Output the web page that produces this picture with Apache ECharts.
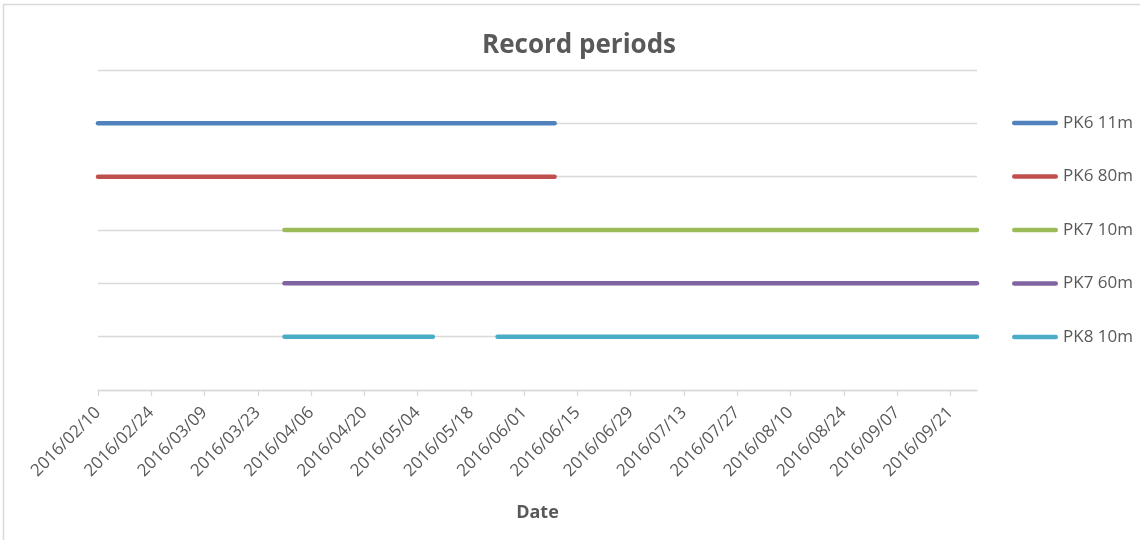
<!DOCTYPE html>
<html>
<head>
<meta charset="utf-8">
<title>Record periods</title>
<script src="https://cdn.jsdelivr.net/npm/echarts@6/dist/echarts.min.js"></script>
<style>
  html, body { margin: 0; padding: 0; background: #fff; }
  #chart { width: 1140px; height: 540px; }
</style>
</head>
<body>
<div id="chart"></div>
<script>
// 数据
var seriesNames = ['PK6 11m', 'PK6 80m', 'PK7 10m', 'PK7 60m', 'PK8 10m'];
var seriesLevels = [5, 4, 3, 2, 1];
var seriesPeriods = [
    [['2016/02/10', '2016/06/09']],
    [['2016/02/10', '2016/06/09']],
    [['2016/03/30', '2016/09/28']],
    [['2016/03/30', '2016/09/28']],
    [['2016/03/30', '2016/05/08'], ['2016/05/25', '2016/09/28']]
];
var tickLabels = ['2016/02/10', '2016/02/24', '2016/03/09', '2016/03/23', '2016/04/06',
    '2016/04/20', '2016/05/04', '2016/05/18', '2016/06/01', '2016/06/15', '2016/06/29',
    '2016/07/13', '2016/07/27', '2016/08/10', '2016/08/24', '2016/09/07', '2016/09/21'];
var axisStart = '2016/02/10';
var axisEnd = '2016/09/28';

var colors = ['#4F81BD', '#C0504D', '#9BBB59', '#8064A2', '#4BACC6'];
var DAY = 86400000;

function toUTC(s) {
    var p = s.split('/');
    return Date.UTC(+p[0], +p[1] - 1, +p[2]);
}
var t0 = toUTC(axisStart);
//日期 -> 距起始日的天数
function dayOf(s) {
    return Math.round((toUTC(s) - t0) / DAY);
}
function pad(n) { return n < 10 ? '0' + n : '' + n; }
function labelOf(v) {
    var d = new Date(t0 + v * DAY);
    return d.getUTCFullYear() + '/' + pad(d.getUTCMonth() + 1) + '/' + pad(d.getUTCDate());
}

var tickDays = tickLabels.map(dayOf);

var series = seriesNames.map(function (name, i) {
    var data = [];
    seriesPeriods[i].forEach(function (p, k) {
        if (k > 0) data.push('-');
        data.push([dayOf(p[0]), seriesLevels[i]]);
        data.push([dayOf(p[1]), seriesLevels[i]]);
    });
    return {
        name: name,
        type: 'line',
        data: data,
        symbol: 'none',
        connectNulls: false,
        silent: true,
        lineStyle: { width: 4.5, color: colors[i], cap: 'round' },
        itemStyle: { color: colors[i] }
    };
});

var textColor = '#595959';
var gridColor = '#d9d9d9';
//图例用圆头粗线
var legendIcon = 'path://M2.25,0 L43.75,0 A2.25,2.25 0 0 1 43.75,4.5 L2.25,4.5 A2.25,2.25 0 0 1 2.25,0 Z';

var myChart = echarts.init(document.getElementById('chart'));
var option = {
    animation: false,
    color: colors,
    title: {
        text: 'Record periods',
        left: 477,
        top: 28,
        textStyle: { fontFamily: 'Open Sans', fontSize: 26, fontWeight: 'bold', color: textColor }
    },
    legend: {
        orient: 'vertical',
        left: 1012,
        top: 114.5,
        padding: 0,
        icon: legendIcon,
        itemWidth: 46,
        itemHeight: 14,
        itemGap: 36.5,
        textStyle: { fontFamily: 'Open Sans', fontSize: 17, color: textColor },
        data: seriesNames
    },
    grid: { left: 98, right: 163, top: 70, bottom: 150, containLabel: false },
    xAxis: {
        type: 'value',
        min: 0,
        max: dayOf(axisEnd),
        name: 'Date',
        nameLocation: 'middle',
        nameGap: 114,
        nameTextStyle: { fontFamily: 'Open Sans', fontSize: 18, fontWeight: 'bold', color: textColor },
        axisLine: { show: true, lineStyle: { color: gridColor, width: 1.3 } },
        axisTick: { show: true, length: 6, lineStyle: { color: gridColor, width: 1.3 }, customValues: tickDays },
        splitLine: { show: false },
        axisLabel: {
            rotate: 45,
            margin: 20,
            fontFamily: 'Open Sans',
            fontSize: 17,
            color: textColor,
            customValues: tickDays,
            formatter: function (v) { return labelOf(v); }
        }
    },
    yAxis: {
        type: 'value',
        min: 0,
        max: 6,
        interval: 1,
        axisLine: { show: false },
        axisTick: { show: false },
        axisLabel: { show: false },
        splitLine: { lineStyle: { color: gridColor, width: 1.3 } }
    },
    graphic: [{
        type: 'rect',
        shape: { x: 3.5, y: 4.5, width: 1200, height: 600 },
        style: { fill: null, stroke: gridColor, lineWidth: 1.5 },
        silent: true
    }],
    series: series
};
myChart.setOption(option);
</script>
</body>
</html>
